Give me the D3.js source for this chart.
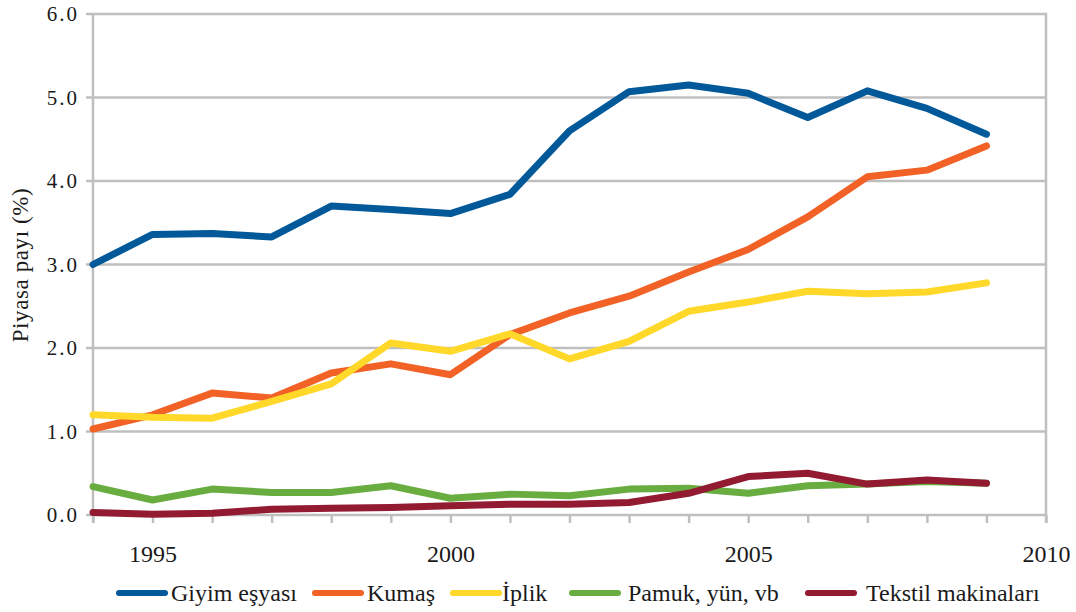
<!DOCTYPE html>
<html>
<head>
<meta charset="utf-8">
<script src="https://cdn.jsdelivr.net/npm/d3@7"></script>
</head>
<body style="margin:0">
<svg id="chart" width="1076" height="612" font-family="Liberation Serif"></svg>
<script>
// ---- data ----
const years = [1994, 1995, 1996, 1997, 1998, 1999, 2000, 2001, 2002, 2003, 2004, 2005, 2006, 2007, 2008, 2009];
const seriesNames = ["Giyim eşyası", "Kumaş", "İplik", "Pamuk, yün, vb", "Tekstil makinaları"];
const giyim   = [3.00, 3.36, 3.37, 3.33, 3.70, 3.66, 3.61, 3.84, 4.60, 5.07, 5.15, 5.05, 4.76, 5.08, 4.87, 4.56];
const kumas   = [1.03, 1.20, 1.46, 1.40, 1.70, 1.81, 1.68, 2.16, 2.42, 2.62, 2.91, 3.18, 3.57, 4.05, 4.13, 4.42];
const iplik   = [1.20, 1.17, 1.16, 1.36, 1.57, 2.06, 1.96, 2.17, 1.87, 2.08, 2.44, 2.55, 2.68, 2.65, 2.67, 2.78];
const pamuk   = [0.34, 0.18, 0.31, 0.27, 0.27, 0.35, 0.20, 0.25, 0.23, 0.31, 0.32, 0.26, 0.35, 0.37, 0.40, 0.38];
const tekstil = [0.03, 0.01, 0.02, 0.07, 0.08, 0.09, 0.11, 0.13, 0.13, 0.15, 0.26, 0.46, 0.50, 0.37, 0.42, 0.38];
const seriesColors = ["#02599A", "#F26226", "#FFD829", "#69AD41", "#921A31"];
const yTicks = [0, 1, 2, 3, 4, 5, 6];
const xTickYears = [1994, 1995, 1996, 1997, 1998, 1999, 2000, 2001, 2002, 2003, 2004, 2005, 2006, 2007, 2008, 2009, 2010];
const xLabelYears = [1995, 2000, 2005, 2010];
const yTitle = "Piyasa payı (%)";

// ---- layout ----
const FONT = "Liberation Serif";
const TXT = "#1a1a1a";
const svg = d3.select("#chart");
const plotLeft = 93, plotRight = 1046, plotTop = 14, plotBottom = 515;
const x = d3.scaleLinear().domain([1994, 2010]).range([plotLeft, plotRight]);
const y = d3.scaleLinear().domain([0, 6]).range([plotBottom, plotTop]);
const axisColor = "#BFBFBF";

function serif(sel, size) {
  return sel.attr("font-family", FONT)
    .attr("font-size", size)
    .style("font-family", "'Liberation Serif', serif", "important")
    .attr("fill", TXT);
}

// gridlines + y ticks
svg.append("g").selectAll("line").data(yTicks).join("line")
  .attr("x1", plotLeft - 7).attr("x2", plotRight)
  .attr("y1", d => y(d)).attr("y2", d => y(d))
  .attr("stroke", axisColor).attr("stroke-width", 2.5);

// y labels
serif(svg.append("g").selectAll("text").data(yTicks).join("text"), 21)
  .attr("letter-spacing", 2)
  .attr("x", 79).attr("y", d => y(d))
  .attr("dy", "0.35em")
  .attr("text-anchor", "end")
  .text(d => d3.format(".1f")(d));

// x axis ticks via d3 axis
const xAxis = d3.axisBottom(x)
  .tickValues(xTickYears)
  .tickSize(8)
  .tickSizeOuter(0)
  .tickPadding(22)
  .tickFormat(d => xLabelYears.includes(d) ? String(d) : "");
const gx = svg.append("g").attr("transform", `translate(0,${plotBottom})`).call(xAxis);
gx.attr("font-family", FONT).attr("font-size", 24);
gx.select(".domain").remove();
gx.selectAll(".tick line").attr("stroke", axisColor).attr("stroke-width", 2.5);
serif(gx.selectAll(".tick text"), 24);

// left axis line and right border
svg.append("line").attr("x1", plotLeft).attr("x2", plotLeft).attr("y1", plotTop).attr("y2", plotBottom + 8)
  .attr("stroke", axisColor).attr("stroke-width", 2.5);
svg.append("line").attr("x1", plotRight).attr("x2", plotRight).attr("y1", plotTop - 1.25).attr("y2", plotBottom + 8)
  .attr("stroke", axisColor).attr("stroke-width", 2.5);

// y title
serif(svg.append("text"), 23)
  .attr("letter-spacing", 0.6)
  .attr("transform", `translate(28,${265}) rotate(-90)`)
  .attr("text-anchor", "middle")
  .text(yTitle);

// series lines
const allSeries = [giyim, kumas, iplik, pamuk, tekstil];
const line = d3.line().x((d, i) => x(years[i])).y(d => y(d));
svg.append("g").selectAll("path").data(allSeries).join("path")
  .attr("d", d => line(d))
  .attr("fill", "none")
  .attr("stroke", (d, i) => seriesColors[i])
  .attr("stroke-width", 7)
  .attr("stroke-linejoin", "round")
  .attr("stroke-linecap", "round");

// legend
const legendX = [119, 315, 453, 572, 808];
const legendTextX = [171, 367, 502, 628, 866];
const legendY = 593;
const lg = svg.append("g");
seriesNames.forEach((name, i) => {
  lg.append("line")
    .attr("x1", legendX[i]).attr("x2", legendX[i] + 46)
    .attr("y1", legendY).attr("y2", legendY)
    .attr("stroke", seriesColors[i]).attr("stroke-width", 6)
    .attr("stroke-linecap", "round");
  serif(lg.append("text"), 24)
    .attr("x", legendTextX[i]).attr("y", legendY + 8)
    .text(name);
});
</script>
</body>
</html>
